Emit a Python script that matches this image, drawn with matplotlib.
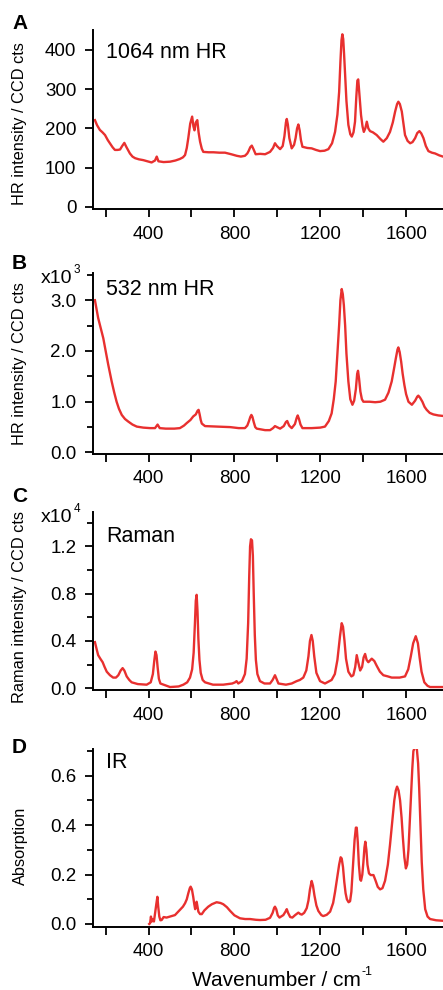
import numpy as np
import matplotlib
matplotlib.use('Agg')
import matplotlib.pyplot as plt
from matplotlib.ticker import MultipleLocator, FormatStrFormatter

plt.rcParams['font.family'] = ['Liberation Sans', 'DejaVu Sans']

# ---------------- data ----------------
# A: 1064 nm hyper-Raman (CCD cts)
hr1064 = [(150, 221), (160, 208), (173, 196), (185, 190), (197, 183), (210, 170), (220, 162),
          (232, 152), (243, 145), (255, 145), (267, 146), (277, 155), (287, 163), (297, 152),
          (313, 136), (325, 128), (337, 124), (355, 121), (375, 119), (395, 116), (414, 113),
          (430, 118), (438, 128), (446, 116), (470, 114), (500, 115), (525, 118), (546, 122),
          (560, 126), (570, 132), (578, 150), (585, 175), (594, 212), (603, 230), (609, 205),
          (614, 195), (620, 215), (627, 221), (633, 190), (640, 166), (648, 148), (655, 140),
          (680, 139), (702, 139), (730, 138), (756, 138), (785, 134), (811, 130), (830, 128),
          (849, 130), (860, 136), (866, 142), (874, 152), (881, 156), (888, 148), (899, 134),
          (920, 135), (943, 134), (966, 140), (980, 150), (989, 162), (998, 155), (1013, 147),
          (1025, 155), (1033, 180), (1040, 215), (1044, 224), (1049, 210), (1056, 175),
          (1067, 149), (1078, 158), (1085, 175), (1092, 200), (1098, 210), (1104, 195),
          (1110, 170), (1117, 153), (1140, 150), (1160, 149), (1180, 145), (1199, 142),
          (1220, 143), (1238, 147), (1255, 162), (1269, 191), (1280, 235), (1288, 293),
          (1294, 370), (1299, 425), (1303, 440), (1307, 428), (1311, 390), (1316, 336),
          (1322, 270), (1331, 209), (1340, 185), (1347, 179), (1355, 190), (1362, 217),
          (1368, 280), (1373, 322), (1377, 325), (1382, 290), (1390, 234), (1397, 205),
          (1403, 191), (1410, 200), (1417, 217), (1424, 200), (1432, 193), (1445, 190),
          (1463, 183), (1480, 173), (1494, 166), (1510, 175), (1525, 191), (1538, 215),
          (1549, 243), (1558, 262), (1564, 268), (1571, 262), (1580, 243), (1588, 210),
          (1595, 183), (1607, 168), (1619, 162), (1630, 165), (1642, 175), (1652, 188),
          (1662, 193), (1671, 187), (1681, 175), (1692, 155), (1704, 142), (1720, 138),
          (1735, 136), (1755, 131), (1772, 128)]

# B: 532 nm hyper-Raman (x10^3 CCD cts)
hr532 = [(150, 3.00), (165, 2.65), (177, 2.45), (189, 2.25), (200, 2.0), (212, 1.73), (228, 1.40),
         (240, 1.18), (251, 1.00), (262, 0.86), (275, 0.74), (290, 0.66), (305, 0.61), (325, 0.55),
         (345, 0.51), (375, 0.49), (407, 0.48), (430, 0.48), (442, 0.55), (452, 0.48), (480, 0.47),
         (520, 0.47), (546, 0.48), (565, 0.53), (578, 0.58), (595, 0.64), (608, 0.71), (620, 0.75),
         (628, 0.82), (633, 0.84), (638, 0.75), (643, 0.64), (648, 0.57), (663, 0.52), (720, 0.51),
         (780, 0.50), (820, 0.48), (849, 0.48), (860, 0.53), (868, 0.62), (874, 0.70), (879, 0.74),
         (884, 0.70), (890, 0.60), (897, 0.50), (904, 0.47), (943, 0.44), (966, 0.44), (980, 0.48),
         (989, 0.52), (998, 0.50), (1013, 0.47), (1030, 0.52), (1040, 0.60), (1046, 0.62),
         (1055, 0.53), (1067, 0.48), (1082, 0.56), (1090, 0.68), (1095, 0.73), (1101, 0.66),
         (1108, 0.55), (1117, 0.48), (1160, 0.48), (1200, 0.49), (1222, 0.51), (1240, 0.62),
         (1253, 0.77), (1263, 1.05), (1272, 1.40), (1280, 1.95), (1288, 2.51), (1294, 3.0),
         (1300, 3.22), (1305, 3.12), (1310, 2.90), (1316, 2.5), (1322, 1.95), (1331, 1.40),
         (1340, 1.05), (1350, 0.94), (1358, 1.02), (1366, 1.25), (1372, 1.55), (1376, 1.61),
         (1381, 1.45), (1387, 1.20), (1394, 1.05), (1401, 1.00), (1430, 1.00), (1456, 0.99),
         (1480, 1.00), (1502, 1.04), (1518, 1.18), (1533, 1.40), (1545, 1.68), (1552, 1.85),
         (1560, 2.03), (1564, 2.07), (1570, 1.98), (1577, 1.79), (1584, 1.55), (1592, 1.33),
         (1600, 1.15), (1611, 1.00), (1627, 0.94), (1642, 1.02), (1652, 1.10), (1657, 1.12),
         (1665, 1.08), (1676, 1.00), (1686, 0.90), (1696, 0.84), (1710, 0.78), (1727, 0.75),
         (1750, 0.73), (1772, 0.72)]

# C: Raman (x10^4 CCD cts)
raman = [(150, 0.39), (158, 0.33), (165, 0.28), (175, 0.25), (186, 0.22), (195, 0.18), (205, 0.14),
         (220, 0.11), (235, 0.09), (248, 0.09), (259, 0.11), (270, 0.15), (279, 0.17), (287, 0.15),
         (298, 0.10), (310, 0.07), (321, 0.05), (350, 0.035), (391, 0.03), (410, 0.05), (420, 0.12),
         (427, 0.24), (432, 0.31), (437, 0.28), (442, 0.18), (448, 0.08), (455, 0.04), (500, 0.01),
         (540, 0.015), (562, 0.03), (580, 0.05), (593, 0.09), (603, 0.16), (610, 0.30), (616, 0.55),
         (620, 0.74), (624, 0.79), (628, 0.65), (632, 0.42), (637, 0.24), (643, 0.13), (652, 0.07),
         (663, 0.05), (700, 0.03), (748, 0.03), (790, 0.04), (803, 0.05), (810, 0.06), (818, 0.04),
         (835, 0.06), (849, 0.12), (857, 0.25), (864, 0.55), (869, 0.95), (873, 1.20), (877, 1.26),
         (882, 1.25), (886, 1.12), (890, 0.80), (895, 0.45), (900, 0.24), (907, 0.12), (919, 0.06),
         (940, 0.04), (966, 0.04), (978, 0.07), (989, 0.11), (996, 0.08), (1005, 0.04), (1040, 0.03),
         (1067, 0.04), (1090, 0.06), (1105, 0.07), (1121, 0.09), (1135, 0.15), (1145, 0.27),
         (1152, 0.40), (1159, 0.45), (1165, 0.40), (1172, 0.27), (1182, 0.13), (1199, 0.06),
         (1222, 0.04), (1253, 0.07), (1268, 0.12), (1280, 0.24), (1292, 0.44), (1300, 0.55),
         (1306, 0.52), (1313, 0.40), (1320, 0.25), (1331, 0.14), (1345, 0.10), (1354, 0.11),
         (1363, 0.18), (1370, 0.28), (1377, 0.22), (1386, 0.15), (1395, 0.18), (1402, 0.26),
         (1409, 0.29), (1416, 0.24), (1424, 0.22), (1440, 0.25), (1452, 0.23), (1463, 0.19),
         (1478, 0.14), (1494, 0.11), (1515, 0.10), (1533, 0.09), (1570, 0.09), (1595, 0.10),
         (1610, 0.16), (1622, 0.27), (1633, 0.38), (1645, 0.44), (1655, 0.38), (1663, 0.26),
         (1672, 0.14), (1685, 0.05), (1700, 0.02), (1712, 0.01), (1772, 0.01)]

# D: IR absorption
ir = [(403, 0.0), (407, 0.003), (411, 0.03), (415, 0.01), (419, 0.02), (425, 0.01), (431, 0.05),
      (436, 0.08), (441, 0.11), (445, 0.07), (450, 0.03), (455, 0.015), (461, 0.016), (470, 0.028),
      (484, 0.026), (500, 0.03), (523, 0.036), (546, 0.057), (560, 0.07), (570, 0.084), (578, 0.10),
      (585, 0.124), (592, 0.145), (596, 0.151), (602, 0.14), (608, 0.11), (613, 0.08), (617, 0.06),
      (621, 0.08), (624, 0.09), (628, 0.07), (632, 0.05), (640, 0.04), (648, 0.04), (660, 0.055),
      (678, 0.07), (695, 0.08), (717, 0.088), (735, 0.085), (748, 0.08), (765, 0.068), (780, 0.053),
      (800, 0.035), (826, 0.023), (850, 0.02), (873, 0.02), (900, 0.017), (919, 0.016), (945, 0.017),
      (966, 0.025), (978, 0.045), (985, 0.065), (989, 0.07), (995, 0.06), (1002, 0.035),
      (1010, 0.026), (1028, 0.036), (1038, 0.05), (1044, 0.06), (1050, 0.045), (1060, 0.028),
      (1070, 0.026), (1083, 0.036), (1098, 0.046), (1107, 0.04), (1114, 0.038), (1125, 0.045),
      (1137, 0.064), (1145, 0.095), (1152, 0.14), (1160, 0.174), (1166, 0.155), (1173, 0.115),
      (1182, 0.075), (1191, 0.053), (1205, 0.036), (1214, 0.032), (1230, 0.037), (1246, 0.05),
      (1260, 0.085), (1269, 0.13), (1280, 0.195), (1288, 0.24), (1295, 0.27), (1300, 0.265),
      (1306, 0.23), (1312, 0.17), (1318, 0.125), (1324, 0.10), (1332, 0.088), (1339, 0.092),
      (1345, 0.13), (1350, 0.2), (1356, 0.29), (1360, 0.34), (1366, 0.39), (1370, 0.39),
      (1375, 0.33), (1380, 0.24), (1386, 0.18), (1390, 0.175), (1396, 0.20), (1401, 0.25),
      (1406, 0.31), (1410, 0.333), (1415, 0.30), (1420, 0.24), (1427, 0.205), (1435, 0.198),
      (1448, 0.198), (1458, 0.175), (1468, 0.15), (1479, 0.14), (1490, 0.145), (1502, 0.175),
      (1515, 0.24), (1525, 0.32), (1535, 0.41), (1545, 0.50), (1552, 0.54), (1558, 0.556),
      (1565, 0.54), (1572, 0.50), (1579, 0.43), (1585, 0.35), (1592, 0.27), (1599, 0.225),
      (1605, 0.24), (1611, 0.30), (1617, 0.41), (1623, 0.52), (1629, 0.63), (1634, 0.70),
      (1641, 0.715), (1650, 0.71), (1656, 0.65), (1661, 0.55), (1667, 0.40), (1673, 0.25),
      (1680, 0.14), (1689, 0.06), (1700, 0.03), (1712, 0.02), (1740, 0.015), (1772, 0.013)]

panels = [
    # data, ylim, major, minor, tick format, letter, inside label, ylabel, x10 power
    (hr1064, (-6.5, 451), 100, None, '%d', 'A', '1064 nm HR', 'HR intensity / CCD cts', None),
    (hr532, (-0.02, 3.53), 1.0, 0.5, '%.1f', 'B', '532 nm HR', 'HR intensity / CCD cts', '3'),
    (raman, (-0.015, 1.488), 0.4, 0.2, '%.1f', 'C', 'Raman', 'Raman intensity / CCD cts', '4'),
    (ir, (-0.011, 0.707), 0.2, 0.1, '%.1f', 'D', 'IR', 'Absorption', None),
]

# axes boxes in pixels (top, bottom) of a 443 x 990 figure
W, H = 443.0, 990.0
boxes = [(30, 209.3), (273.3, 453.5), (512.3, 690), (749.3, 926.7)]
ylabel_y = [124, 364, 607, 846]
inner_base = [58, 295, 541.7, 767.7]
letter_base = [29, 269.3, 501.7, 753.3]

red = '#e8302f'

fig = plt.figure(figsize=(W / 100, H / 100), dpi=100)

for i, (data, ylim, major, minor, fmt, letter, inner, ylab, power) in enumerate(panels):
    x, y = zip(*data)
    top, bot = boxes[i]
    ax = fig.add_axes([93 / W, 1 - bot / H, 350 / W, (bot - top) / H])
    ax.plot(x, y, color=red, lw=1.7, solid_joinstyle='round')
    ax.set_xlim(141, 1772)
    ax.set_ylim(*ylim)

    for s in ['top', 'right']:
        ax.spines[s].set_visible(False)
    for s in ['left', 'bottom']:
        ax.spines[s].set_linewidth(1.4)

    ax.xaxis.set_major_locator(MultipleLocator(400))
    ax.xaxis.set_minor_locator(MultipleLocator(200))
    ax.yaxis.set_major_locator(MultipleLocator(major))
    if minor:
        ax.yaxis.set_minor_locator(MultipleLocator(minor))
    ax.yaxis.set_major_formatter(FormatStrFormatter(fmt))
    ax.tick_params(which='major', direction='out', length=6, width=1.3, labelsize=13.5, pad=6)
    ax.tick_params(which='minor', direction='out', length=4, width=1.3)
    ax.tick_params(axis='x', which='minor', length=6)

    # labels
    fig.text(20 / W, 1 - ylabel_y[i] / H, ylab, rotation=90, ha='center', va='center', fontsize=11.8)
    fig.text(106 / W, 1 - inner_base[i] / H, inner, ha='left', va='baseline', fontsize=15.5)
    fig.text(12 / W, 1 - letter_base[i] / H, letter, ha='left', va='baseline', fontsize=15, fontweight='bold')
    if power:
        base = top + 10
        fig.text(41 / W, 1 - base / H, 'x10', ha='left', va='baseline', fontsize=14)
        fig.text(73.5 / W, 1 - (base - 19) / H, power, ha='left', va='top', fontsize=8.5)

fig.text(192 / W, 1 - 986 / H, 'Wavenumber / cm', ha='left', va='baseline', fontsize=15)
fig.text(361 / W, 1 - 966 / H, '-1', ha='left', va='top', fontsize=9)

fig.savefig('out.png', dpi=100)
